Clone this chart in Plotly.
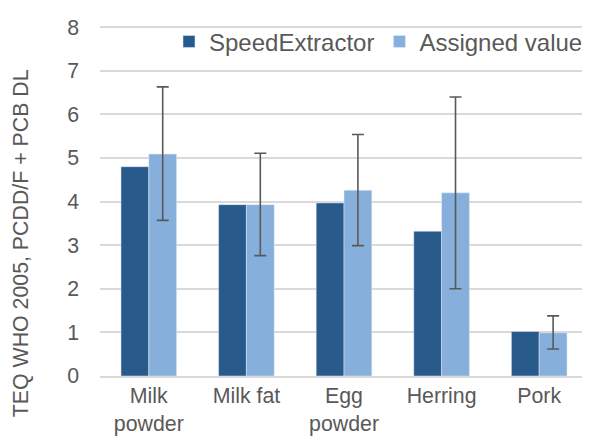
import plotly.graph_objects as go

categories = ["Milk<br>powder", "Milk fat", "Egg<br>powder", "Herring", "Pork"]
speed_extractor = [4.80, 3.93, 3.97, 3.32, 1.02]
assigned_value = [5.09, 3.93, 4.26, 4.20, 0.99]
assigned_err_plus = [1.54, 1.18, 1.28, 2.20, 0.39]
assigned_err_minus = [1.52, 1.17, 1.27, 2.20, 0.37]
y_ticks = [0, 1, 2, 3, 4, 5, 6, 7, 8]
y_title = "TEQ WHO 2005, PCDD/F + PCB DL"

grey = "#595959"
grid = "#d9d9d9"
font = "Liberation Sans, Arial, sans-serif"
fs = 21.33

fig = go.Figure()
fig.add_trace(go.Bar(
    name="SpeedExtractor", x=categories, y=speed_extractor,
    marker=dict(color="#285A8C"),
))
fig.add_trace(go.Bar(
    name="Assigned value", x=categories, y=assigned_value,
    marker=dict(color="#86AFDC"),
    error_y=dict(type="data", symmetric=False, array=assigned_err_plus,
                 arrayminus=assigned_err_minus, color=grey, thickness=1.6, width=6),
))

# page body has an 8px margin, so the figure is sized to fit the 590x436 window
fig.update_layout(
    width=582, height=428,
    margin=dict(l=92, r=2, t=17, b=60, autoexpand=False),
    paper_bgcolor="white", plot_bgcolor="white",
    barmode="group", bargap=0.43, bargroupgap=0,
    font=dict(family=font, size=fs, color=grey),
    showlegend=True,
    legend=dict(orientation="h", x=1.0, xanchor="right", y=0.952, yanchor="middle",
                bgcolor="rgba(255,255,255,0)", font=dict(size=24, color=grey),
                itemwidth=30, traceorder="normal", tracegroupgap=0),
    xaxis=dict(showline=True, linecolor=grid, linewidth=1.5, ticks="",
               automargin=False, tickfont=dict(size=fs, color=grey), fixedrange=True),
    yaxis=dict(range=[0, 8.05], tickvals=y_ticks, showgrid=True, gridcolor=grid,
               gridwidth=1.5, zeroline=False, showline=False, ticks="", automargin=False,
               ticklabelstandoff=20, tickfont=dict(size=fs, color=grey)),
    annotations=[dict(text=y_title, textangle=-90, xref="paper", yref="paper",
                      x=-0.162, y=0.378, xanchor="center", yanchor="middle",
                      showarrow=False, font=dict(size=fs, color=grey))],
)
# top gridline at the last tick
fig.add_shape(type="line", xref="paper", yref="y", x0=0, x1=1,
              y0=y_ticks[-1], y1=y_ticks[-1], line=dict(color=grid, width=1.5),
              layer="above")

fig.write_html("out.html")
